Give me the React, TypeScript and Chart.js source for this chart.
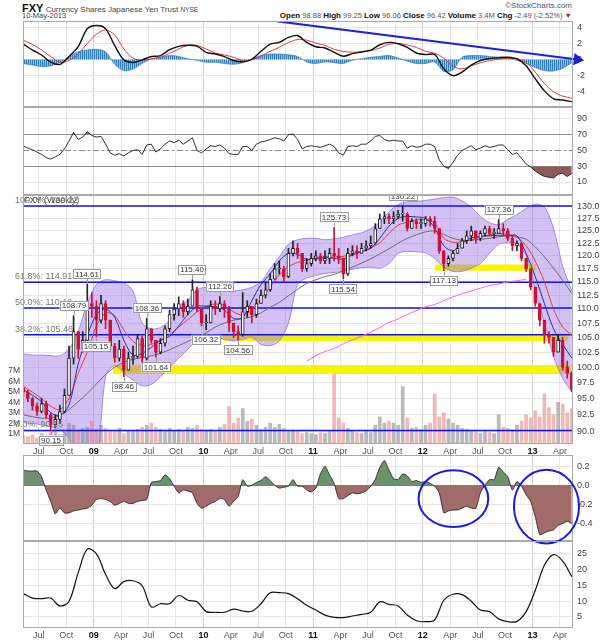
import React, { useEffect, useRef } from "react";
import { Chart, registerables } from "chart.js";

Chart.register(...registerables);

const FONT = "'Liberation Sans', Arial, Helvetica, sans-serif";

// ---------- time axis: months counted from 1 May 2008 ----------
const X_MIN = 0.266;
const X_MAX = 60.43;
const FIRST_BAR_MONTH = 0.3; // week of 9 May 2008
const BAR_STEP = 0.5; // half-month price bars
const MONTH_STEP = 1; // monthly indicator samples

const quarterMonths = [2, 5, 8, 11, 14, 17, 20, 23, 26, 29, 32, 35, 38, 41, 44, 47, 50, 53, 56, 59];
const quarterLabels = ["Jul", "Oct", "09", "Apr", "Jul", "Oct", "10", "Apr", "Jul", "Oct", "11", "Apr", "Jul", "Oct", "12", "Apr", "Jul", "Oct", "13", "Apr"];

// ---------- header ----------
const symbol = "FXY";
const fullName = "Currency Shares Japanese Yen Trust";
const exchange = "NYSE";
const asOf = "10-May-2013";
const quoteLabels = ["Open", "High", "Low", "Close", "Volume", "Chg"];
const quoteValues = ["98.88", "99.25", "96.06", "96.42", "3.4M", "-2.49 (-2.52%)"];

// ---------- price bars (half-monthly) ----------
const firstOpen = 96.6;
const closes = [
  96.0, 95.0, 93.8, 93.0, 94.2, 92.5, 91.0, 91.8, 93.0, 95.5,
  101.5, 106.0, 103.0, 104.5, 111.0, 110.5, 108.0, 111.0, 108.0, 103.5,
  101.5, 103.0, 99.5, 101.5, 101.8, 104.8, 101.5, 106.5, 104.5, 102.5,
  104.0, 106.5, 109.0, 110.0, 111.0, 109.5, 110.5, 113.5, 110.0, 107.5,
  107.5, 110.5, 110.0, 111.0, 110.0, 107.5, 106.0, 105.5, 109.5, 110.5,
  109.0, 111.0, 112.5, 113.5, 115.5, 117.5, 117.5, 116.0, 120.5, 121.5,
  120.5, 117.5, 118.5, 119.5, 120.0, 119.0, 119.5, 120.5, 120.0, 119.5,
  116.5, 120.5, 121.0, 120.5, 121.5, 122.0, 122.5, 125.5, 127.5, 128.0,
  127.5, 128.0, 128.5, 128.5, 125.5, 127.0, 126.5, 126.5, 127.5, 127.0,
  125.5, 121.0, 118.5, 119.5, 120.5, 121.5, 123.0, 124.0, 125.0, 123.5,
  124.5, 125.5, 124.5, 124.5, 125.5, 125.0, 123.5, 122.0, 122.5, 119.5,
  117.5, 114.0, 111.0, 108.0, 105.5, 105.0, 102.5, 104.5, 100.0, 99.0,
  96.42,
];
const highs = [
  97.0, 96.3, 95.2, 94.3, 95.0, 94.6, 92.8, 92.5, 94.0, 96.5,
  103.5, 108.79, 106.0, 106.0, 114.61, 113.0, 111.5, 112.5, 111.5, 108.0,
  104.0, 104.5, 103.5, 102.5, 103.5, 105.5, 105.2, 108.36, 106.5, 104.5,
  104.8, 107.0, 109.8, 111.0, 112.2, 111.5, 111.8, 115.4, 114.0, 110.0,
  109.0, 111.5, 111.5, 112.26, 111.5, 110.5, 107.5, 107.0, 113.0, 111.5,
  110.5, 111.8, 113.5, 115.0, 116.5, 118.5, 119.0, 118.0, 121.5, 123.0,
  122.5, 120.5, 119.5, 120.5, 121.0, 120.5, 121.0, 121.5, 125.73, 121.5,
  119.5, 121.5, 122.0, 122.0, 122.5, 123.0, 124.0, 126.5, 128.5, 129.0,
  128.5, 129.0, 129.3, 130.22, 128.8, 127.5, 127.5, 127.5, 128.0, 128.0,
  128.0, 125.5, 121.0, 120.0, 121.0, 122.5, 123.5, 125.0, 126.0, 125.0,
  125.0, 126.0, 126.0, 125.5, 127.36, 126.5, 125.5, 124.0, 123.0, 122.5,
  119.5, 117.5, 114.0, 111.0, 108.0, 106.0, 105.0, 105.5, 105.0, 101.0,
  99.25,
];
const lows = [
  95.2, 94.5, 93.2, 92.4, 92.8, 92.0, 90.15, 90.6, 91.2, 92.8,
  95.5, 100.5, 101.5, 102.5, 104.5, 108.5, 105.15, 107.5, 106.5, 102.8,
  100.8, 101.0, 98.46, 99.5, 100.5, 101.5, 100.5, 101.2, 104.0, 101.64,
  102.2, 103.5, 106.0, 108.0, 108.8, 108.5, 109.0, 110.5, 109.5, 107.0,
  106.32, 107.5, 109.0, 109.5, 108.5, 106.0, 105.0, 104.56, 105.2, 108.5,
  107.5, 108.5, 111.0, 112.0, 113.2, 115.5, 116.5, 115.0, 115.8, 120.0,
  119.5, 117.0, 117.0, 118.0, 119.0, 118.5, 118.5, 118.5, 119.0, 118.5,
  115.54, 116.2, 120.0, 119.5, 120.5, 121.0, 121.5, 122.3, 125.5, 126.5,
  126.5, 126.5, 127.5, 127.0, 125.0, 125.5, 125.5, 125.5, 126.0, 126.0,
  124.5, 120.5, 117.13, 118.0, 119.0, 120.5, 121.5, 122.5, 123.0, 122.5,
  123.0, 124.0, 124.0, 123.5, 124.5, 124.0, 123.0, 121.0, 121.0, 119.0,
  117.0, 113.5, 110.5, 107.0, 104.0, 104.0, 101.8, 102.5, 99.5, 98.2,
  96.06,
];
const volumesM = [
  0.8, 0.7, 0.9, 0.6, 1.0, 0.8, 1.2, 1.5, 0.9, 1.1,
  2.0, 1.8, 1.2, 1.5, 1.6, 2.2, 1.4, 1.8, 1.5, 1.3,
  1.2, 1.5, 1.0, 1.3, 1.2, 1.4, 1.6, 1.8, 2.0, 1.6,
  1.4, 1.2, 1.5, 1.3, 1.4, 1.2, 1.6, 1.5, 1.8, 1.4,
  1.3, 1.4, 1.2, 1.6, 1.9, 3.6, 2.0, 2.5, 3.4, 2.2,
  2.4, 1.8, 1.4, 1.6, 2.0, 1.6, 1.9, 1.5, 1.2, 1.3,
  1.2, 1.0, 1.1, 1.0, 0.9, 1.1, 1.0, 1.2, 6.7, 2.5,
  2.0, 1.5, 1.3, 1.1, 1.0, 1.2, 1.1, 1.8, 2.6, 2.0,
  2.2, 2.0, 1.8, 5.5, 2.5, 1.5, 1.6, 1.4, 1.8, 2.0,
  4.8, 2.6, 3.0, 2.4, 2.0, 1.8, 1.5, 1.4, 1.3, 1.2,
  1.0, 1.2, 1.1, 1.0, 2.8, 1.6, 1.5, 1.4, 1.8, 2.2,
  2.8, 2.5, 3.2, 2.6, 4.8, 3.5, 2.8, 4.0, 3.8, 3.0,
  3.4,
];
const rsi = [
  55.7, 53, 51, 48, 45, 41, 39, 42, 45, 52,
  62, 73, 64, 67, 74, 69, 67, 68, 58, 47,
  44, 46, 43, 47, 50, 51, 45, 57, 58, 48,
  52, 58, 62, 60, 63, 58, 62, 66, 50, 47,
  52, 56, 55, 57, 53, 46, 45, 45, 55, 55,
  50, 58, 61, 62, 64, 66, 65, 62, 70, 71,
  64, 52, 55, 56, 55, 54, 56, 58, 55, 47,
  44, 55, 56, 55, 58, 58, 62, 68, 69, 64,
  62, 63, 62, 62, 53, 56, 54, 55, 58, 58,
  55, 38, 30, 27, 35, 44, 50, 53, 56, 51,
  53, 56, 54, 55, 57, 57, 51, 45, 47, 40,
  33, 29, 24, 20, 17, 16, 15, 20, 21, 17,
  21,
];
const cmf = [
  0.16, 0.15, 0.15, 0.15, 0.09, -0.05, -0.17, -0.30, -0.24, -0.29,
  -0.29, -0.27, -0.26, -0.25, -0.24, -0.21, -0.15, -0.14, -0.15, -0.17,
  -0.21, -0.19, -0.17, -0.19, -0.19, -0.17, -0.16, -0.15, 0.03, 0.04,
  0.05, 0.11, 0.07, -0.01, -0.08, -0.05, -0.06, -0.08, -0.19, -0.24,
  -0.22, -0.19, -0.17, -0.14, -0.15, -0.22, -0.17, -0.12, 0.06, -0.01,
  0.0, 0.03, 0.05, 0.09, 0.05, 0.0, -0.03, -0.02, -0.01, 0.06,
  -0.01, -0.01, -0.05, -0.07, -0.03, 0.12, 0.20, 0.11, 0.02, -0.14,
  -0.14, -0.11, -0.08, -0.09, -0.08, -0.06, -0.01, 0.06, 0.19, 0.26,
  0.16, 0.07, 0.06, 0.12, 0.10, 0.04, 0.05, 0.03, 0.04, 0.02,
  -0.01, -0.08, -0.29, -0.27, -0.26, -0.26, -0.24, -0.22, -0.24, -0.24,
  -0.08, 0.0, 0.06, 0.06, 0.19, 0.14, 0.09, -0.05, 0.04, -0.01,
  -0.10, -0.17, -0.33, -0.52, -0.50, -0.48, -0.47, -0.42, -0.40, -0.38,
  -0.40,
];

// ---------- monthly overlays / indicators ----------
const bbUpper = [
  102.2, 102.0, 102.0, 101.9, 101.9, 103.0, 106.0, 111.0, 114.5, 115.4,
  115.2, 114.8, 113.3, 107.5, 106.5, 106.7, 108.0, 110.5, 111.6, 113.5,
  114.0, 113.8, 113.5, 113.3, 113.5, 114.0, 115.0, 117.5, 119.8, 122.3,
  123.2, 123.5, 123.5, 123.2, 123.4, 123.7, 124.2, 124.6, 125.5, 126.8,
  129.0, 130.5, 131.1, 131.2, 131.4, 131.7, 132.0, 132.1, 131.3, 130.0,
  128.0, 126.7, 126.3, 127.4, 128.4, 129.7, 130.6, 130.0, 125.5, 118.0,
  113.3,
];
const bbLower = [
  91.3, 91.2, 91.0, 90.7, 90.3, 89.0, 86.0, 84.0, 85.0, 98.5,
  100.3, 99.0, 97.9, 97.0, 97.2, 98.5, 100.0, 101.5, 103.0, 104.5,
  105.2, 105.0, 104.7, 104.4, 104.7, 105.0, 103.8, 103.6, 104.4, 107.5,
  114.6, 115.7, 116.2, 116.6, 116.8, 117.0, 117.4, 117.7, 117.8, 117.6,
  118.5, 120.5, 120.9, 120.8, 120.6, 119.5, 117.8, 117.0, 117.0, 117.6,
  118.5, 120.5, 122.3, 122.6, 122.4, 120.0, 113.5, 107.5, 101.8, 98.2,
  96.0,
];
const maFast = [
  96.4, 95.5, 94.5, 92.8, 92.4, 94.0, 100.5, 105.3, 109.0, 110.0,
  108.5, 104.5, 102.0, 102.3, 103.3, 104.5, 105.2, 107.0, 109.0, 110.5,
  110.5, 110.4, 109.8, 108.3, 108.5, 111.5, 114.5, 116.5, 119.0, 120.5,
  120.3, 119.3, 119.5, 119.8, 119.5, 119.4, 120.2, 120.8, 121.5, 123.5,
  126.0, 127.6, 128.0, 127.9, 127.6, 125.6, 122.0, 121.0, 122.5, 123.6,
  123.9, 124.0, 124.1, 124.1, 124.0, 120.5, 116.0, 111.0, 106.5, 103.8,
  101.5,
];
const maMid = [
  96.9, 96.0, 95.0, 93.8, 93.3, 95.0, 99.0, 102.5, 107.0, 109.3,
  108.8, 106.3, 104.3, 103.6, 103.8, 104.5, 105.5, 106.8, 108.1, 109.5,
  110.5, 110.9, 110.6, 109.5, 108.9, 109.8, 111.8, 114.0, 116.3, 117.9,
  118.7, 119.2, 119.4, 119.6, 119.8, 119.9, 120.4, 120.9, 121.6, 122.6,
  124.5, 126.2, 126.8, 127.3, 127.3, 126.6, 123.5, 122.7, 122.8, 123.2,
  123.8, 124.2, 124.5, 124.3, 123.7, 122.0, 119.0, 115.0, 110.0, 106.8,
  105.4,
];
const maSlow = [
  92.5, 92.2, 92.0, 92.0, 92.4, 93.3, 94.5, 95.8, 97.3, 98.8,
  100.0, 100.8, 101.3, 101.6, 101.9, 102.3, 102.9, 103.6, 104.3, 105.0,
  105.8, 106.8, 107.5, 108.0, 108.3, 108.6, 109.3, 110.3, 111.2, 112.4,
  113.6, 114.7, 115.4, 116.0, 116.4, 117.1, 117.8, 118.6, 119.4, 120.4,
  121.4, 122.5, 123.5, 124.2, 124.8, 125.0, 124.3, 123.5, 123.1, 123.1,
  123.3, 123.5, 123.8, 124.0, 123.8, 123.3, 121.8, 119.8, 117.6, 115.3,
  112.8,
];
const maLong = [
  null, null, null, null, null, null, null, null, null, null,
  null, null, null, null, null, null, null, null, null, null,
  null, null, null, null, null, null, null, null, null, null,
  null, 101.0, 101.9, 102.6, 103.1, 103.9, 104.6, 105.2, 105.9, 106.7,
  107.6, 108.2, 109.0, 109.7, 110.4, 110.8, 111.5, 112.2, 112.8, 113.3,
  113.8, 114.3, 114.6, 115.0, 115.2, 115.5, null, null, null, null,
  null,
];
const macd = [
  1.96, 1.2, 0.58, -0.33, -0.62, 0.38, 1.62, 3.9, 4.3, 3.9,
  1.75, -0.04, -0.37, -0.04, 0.38, 0.5, 1.25, 1.67, 1.8, 1.7,
  0.92, 0.7, 0.38, -0.12, -0.3, 0.04, 1.04, 1.96, 2.17, 2.8,
  3.04, 2.17, 1.62, 1.46, 0.92, 0.42, 0.75, 0.96, 1.2, 1.87,
  2.17, 2.0, 1.54, 0.83, 0.63, 0.63, -1.17, -2.04, -1.58, -0.71,
  -0.12, 0.12, 0.25, 0.29, 0.08, -0.79, -2.42, -3.96, -4.96, -5.12,
  -5.33,
];
const macdSignal = [
  2.46, 1.92, 1.21, 0.38, -0.37, -0.13, 0.71, 2.04, 3.2, 3.75,
  3.1, 1.33, 0.17, -0.08, 0.08, 0.29, 0.79, 1.33, 1.79, 1.79,
  1.33, 0.83, 0.58, 0.29, -0.13, -0.04, 0.46, 1.04, 1.54, 2.13,
  2.54, 2.46, 2.08, 1.79, 1.29, 1.04, 0.92, 1.0, 1.12, 1.46,
  1.92, 2.04, 1.83, 1.54, 1.04, 0.79, 0.17, -0.88, -1.17, -0.79,
  -0.42, -0.13, 0.04, 0.17, 0.12, -0.37, -1.58, -3.04, -4.08, -4.62,
  -4.88,
];
const macdHist = [
  -0.5, -0.7, -0.9, -0.8, -0.4, 0.4, 1.0, 1.2, 1.3, 1.0,
  -0.6, -1.4, -1.2, -0.5, 0.1, 0.3, 0.5, 0.4, 0.1, -0.1,
  -0.35, -0.35, -0.5, -0.6, -0.4, 0.1, 0.5, 0.7, 0.7, 0.6,
  0.4, -0.3, -0.5, -0.3, -0.4, -0.5, -0.1, 0.1, 0.3, 0.4,
  0.5, 0.2, -0.2, -0.5, -0.5, -0.3, -1.5, -1.3, 0.3, 0.5,
  0.5, 0.4, 0.3, 0.2, -0.1, -0.5, -1.0, -1.4, -1.45, -1.1,
  -0.4,
];
const adx = [
  12.4, 11.0, 10.8, 11.0, 8.5, 10.0, 19.0, 26.5, 25.0, 18.5,
  14.0, 16.2, 16.5, 14.9, 8.2, 9.2, 9.2, 11.8, 10.3, 9.8,
  6.7, 6.5, 6.5, 7.5, 6.9, 6.8, 9.2, 12.7, 12.7, 12.4,
  10.8, 8.7, 7.2, 5.6, 4.9, 4.8, 5.3, 5.8, 6.5, 9.8,
  9.0, 8.5, 5.6, 3.8, 3.5, 4.1, 10.3, 12.2, 12.1, 10.0,
  7.2, 6.7, 4.4, 3.5, 3.6, 6.7, 13.4, 21.4, 24.8, 22.7,
  17.8,
];

// ---------- annotations ----------
const fibPercents = ["100.0%", "61.8%", "50.0%", "38.2%", "0.0%"];
const fibLevels = [130.22, 114.91, 110.18, 105.46, 90.15];
const supportLow = [98.9, 104.4, 117.13];
const supportHigh = [100.35, 105.46, 118.3];
const supportFrom = [10.1, 22.06, 45.3];
const supportTo = [60.2, 59.9, 56.4];
const noteBars = [6, 11, 14, 16, 22, 27, 29, 37, 40, 43, 47, 68, 70, 83, 92, 104];
const noteAbove = [false, true, true, false, false, true, false, true, false, true, false, true, false, true, false, true];
const macdTrendMonths = [27.98, 60.9];
const macdTrendValues = [4.85, 0.0];
const ringMonths = [47.35, 57.53];
const ringValues = [-0.141, -0.223];
const ringHalfMonths = [3.81, 3.56];
const ringHalfValues = [0.298, 0.387];

const priceTicks = [90, 92.5, 95, 97.5, 100, 102.5, 105, 107.5, 110, 112.5, 115, 117.5, 120, 122.5, 125, 127.5, 130];
const volumeTicks = [1, 2, 3, 4, 5, 6, 7];
const macdTicks = [4, 2, 0, -2, -4];
const rsiTicks = [90, 70, 50, 30, 10];
const cmfTicks = [0.2, 0, -0.2, -0.4];
const adxTicks = [25, 20, 15, 10, 5];

// ---------- helpers ----------
const barX = (i: number) => FIRST_BAR_MONTH + BAR_STEP * i;
const monthX = (k: number) => FIRST_BAR_MONTH + MONTH_STEP * k;
const pts = (vals: any[], xf: (i: number) => number) => vals.map((v, i) => ({ x: xf(i), y: v }));
const isYearLabel = (v: number) => /^\d\d$/.test(quarterLabels[quarterMonths.indexOf(v)] || "");

function timeAxis(showLabels: boolean) {
  return {
    type: "linear",
    min: X_MIN,
    max: X_MAX,
    offset: false,
    afterBuildTicks: (s: any) => {
      s.ticks = quarterMonths.map((v) => ({ value: v }));
    },
    afterFit: (s: any) => {
      s.height = showLabels ? 12 : 0;
      s.paddingLeft = 0;
      s.paddingRight = 0;
    },
    ticks: {
      display: showLabels,
      autoSkip: false,
      maxRotation: 0,
      minRotation: 0,
      padding: 2,
      callback: (v: any) => quarterLabels[quarterMonths.indexOf(Number(v))] ?? "",
      font: (c: any) => ({ family: FONT, size: 9, weight: c.tick && isYearLabel(c.tick.value) ? "bold" : "normal" }),
      color: (c: any) => (c.tick && isYearLabel(c.tick.value) ? "#111" : "#555"),
    },
    grid: {
      drawTicks: false,
      offset: false,
      color: (c: any) => (c.tick && isYearLabel(c.tick.value) ? "#d2d2d2" : "#e6e6e6"),
    },
    border: { display: false },
  };
}

function rightAxis(min: number, max: number, ticks: number[], fmt: (v: number) => string, gridColor?: any) {
  return {
    position: "right",
    min,
    max,
    afterBuildTicks: (s: any) => {
      s.ticks = ticks.map((v) => ({ value: v }));
    },
    afterFit: (s: any) => {
      s.width = 33;
      s.paddingTop = 0;
      s.paddingBottom = 0;
    },
    ticks: { autoSkip: false, padding: 4, font: { family: FONT, size: 9 }, color: "#444", callback: (v: any) => fmt(Number(v)) },
    grid: { drawTicks: false, color: gridColor || "#e6e6e6" },
    border: { display: false },
  };
}

const framePlugin = {
  id: "frame",
  afterDraw(chart: any) {
    const { ctx, chartArea: a } = chart;
    ctx.save();
    ctx.strokeStyle = "#a9a9a9";
    ctx.lineWidth = 1;
    ctx.strokeRect(a.left + 0.5, a.top + 0.5, a.right - a.left - 1, a.bottom - a.top - 1);
    ctx.restore();
  },
};

function baseOptions(scales: any, padLeft: number, padBottom = 0) {
  return {
    responsive: false,
    maintainAspectRatio: false,
    animation: false,
    events: [],
    layout: { padding: { left: padLeft, right: 0, top: 0, bottom: padBottom }, autoPadding: false },
    plugins: { legend: { display: false }, tooltip: { enabled: false }, title: { display: false }, colors: { enabled: false } },
    scales,
  };
}

const flatLine = (y: number, from: number, to: number) => [{ x: from, y }, { x: to, y }];
const lineDs = (data: any[], color: string, width: number, extra: any = {}) => ({
  type: "line",
  data,
  borderColor: color,
  borderWidth: width,
  pointRadius: 0,
  tension: 0.3,
  fill: false,
  ...extra,
});

function stripePattern(dark: string, light: string) {
  const c = document.createElement("canvas");
  c.width = 2;
  c.height = 1;
  const g = c.getContext("2d") as CanvasRenderingContext2D;
  g.fillStyle = dark;
  g.fillRect(0, 0, 1, 1);
  g.fillStyle = light;
  g.fillRect(1, 0, 1, 1);
  return g.createPattern(c, "repeat");
}

// ---------- MACD ----------
function macdConfig() {
  return {
    type: "line",
    data: {
      datasets: [
        lineDs(pts(macdHist, monthX), "#2d6f9f", 0.6, {
          fill: "origin",
          backgroundColor: stripePattern("#2f7fba", "#8fc0e3"),
          order: 10,
        }),
        lineDs(pts(macdSignal, monthX), "#e8373a", 1, { order: 3 }),
        lineDs(pts(macd, monthX), "#111111", 1.4, { order: 2 }),
        lineDs(
          macdTrendMonths.map((m, i) => ({ x: m, y: macdTrendValues[i] })),
          "#1f1fe0",
          2,
          {
            tension: 0,
            order: 1,
            clip: false,
            pointRadius: [0, 5],
            pointStyle: "triangle",
            rotation: 97,
            pointBackgroundColor: "#1f1fe0",
            pointBorderColor: "#1f1fe0",
          }
        ),
      ],
    },
    options: baseOptions({ x: timeAxis(false), y: rightAxis(-6.0, 4.875, macdTicks, (v) => String(v)) }, 23),
    plugins: [framePlugin],
  };
}

// ---------- RSI ----------
function rsiConfig() {
  const rsiPts = pts(rsi, barX);
  return {
    type: "line",
    data: {
      datasets: [
        lineDs(rsiPts, "rgba(0,0,0,0)", 0, { tension: 0, order: 10, fill: { target: { value: 70 }, above: "#5d875d", below: "rgba(0,0,0,0)" } }),
        lineDs(rsiPts, "rgba(0,0,0,0)", 0, { tension: 0, order: 10, fill: { target: { value: 30 }, above: "rgba(0,0,0,0)", below: "#8e5a58" } }),
        lineDs(flatLine(50, X_MIN, X_MAX), "#8a8a8a", 1, { tension: 0, borderDash: [6, 3, 2, 3], order: 5 }),
        lineDs(rsiPts, "#1a1a1a", 0.9, { tension: 0, order: 1 }),
      ],
    },
    options: baseOptions(
      {
        x: timeAxis(false),
        y: rightAxis(-6.5, 105.2, rsiTicks, (v) => String(v), (c: any) =>
          c.tick && (c.tick.value === 70 || c.tick.value === 30) ? "#9a9a9a" : "#e6e6e6"
        ),
      },
      23
    ),
    plugins: [framePlugin],
  };
}

// ---------- Price ----------
const priceNotes = {
  id: "priceNotes",
  afterDatasetsDraw(chart: any) {
    const { ctx, scales, chartArea } = chart;
    const x = scales.x;
    const y = scales.y;
    ctx.save();
    ctx.font = `9px ${FONT}`;
    ctx.textBaseline = "bottom";
    ctx.textAlign = "left";
    ctx.fillStyle = "#777";
    fibLevels.forEach((lv, j) => {
      ctx.fillText(`${fibPercents[j]}: ${lv.toFixed(2)}`, 15, y.getPixelForValue(lv) - 1);
    });
    ctx.fillStyle = "#555";
    ctx.textBaseline = "middle";
    ctx.fillText(`${symbol} (Weekly)`, chartArea.left + 1, chartArea.top + 6);

    ctx.font = `8px ${FONT}`;
    ctx.textAlign = "center";
    noteBars.forEach((bi, j) => {
      const above = noteAbove[j];
      const v = above ? highs[bi] : lows[bi];
      const px = Math.round(x.getPixelForValue(barX(bi)));
      const py = y.getPixelForValue(v);
      const txt = v.toFixed(2);
      const w = Math.ceil(ctx.measureText(txt).width) + 4;
      const h = 10;
      const cy = above ? py - 10 : py + 10;
      ctx.strokeStyle = "#9a9a9a";
      ctx.lineWidth = 1;
      ctx.beginPath();
      ctx.moveTo(px + 0.5, py + (above ? -1 : 1));
      ctx.lineTo(px + 0.5, cy + (above ? h / 2 : -h / 2));
      ctx.stroke();
      ctx.fillStyle = "#ffffff";
      ctx.fillRect(px - w / 2, cy - h / 2, w, h);
      ctx.strokeRect(Math.round(px - w / 2) + 0.5, Math.round(cy - h / 2) + 0.5, w - 1, h - 1);
      ctx.fillStyle = "#333";
      ctx.fillText(txt, px, cy + 0.5);
    });
    ctx.restore();
  },
};

function priceConfig() {
  const opens = closes.map((c, i) => (i === 0 ? firstOpen : closes[i - 1]));
  const isUp = closes.map((c, i) => c >= opens[i]);
  const candleColor = isUp.map((u) => (u ? "#222222" : "#cc1236"));
  const datasets: any[] = [];
  supportLow.forEach((lo, j) => {
    datasets.push(lineDs(flatLine(supportHigh[j], supportFrom[j], supportTo[j]), "rgba(0,0,0,0)", 0, { tension: 0, order: 40 }));
    datasets.push(
      lineDs(flatLine(lo, supportFrom[j], supportTo[j]), "rgba(0,0,0,0)", 0, { tension: 0, order: 40, fill: "-1", backgroundColor: "#f6f600" })
    );
  });
  datasets.push(lineDs(pts(bbUpper, monthX), "#a488dd", 1, { order: 35 }));
  datasets.push(lineDs(pts(bbLower, monthX), "#a488dd", 1, { order: 35, fill: "-1", backgroundColor: "rgba(150,105,230,0.42)" }));
  datasets.push({
    type: "bar",
    yAxisID: "yv",
    data: pts(volumesM, barX),
    grouped: false,
    barThickness: 3,
    backgroundColor: isUp.map((u) => (u ? "rgba(140,140,140,0.6)" : "rgba(232,125,125,0.55)")),
    borderWidth: 0,
    order: 30,
  });
  fibLevels.forEach((lv) => {
    datasets.push(lineDs(flatLine(lv, X_MIN, X_MAX), "#1212ee", 1.5, { tension: 0, order: 25 }));
  });
  datasets.push(lineDs(pts(maLong, monthX), "#ff5cf0", 1, { order: 20 }));
  datasets.push(lineDs(pts(maSlow, monthX), "#6d6d6d", 1, { order: 19 }));
  datasets.push(lineDs(pts(maMid, monthX), "#e23a3a", 1, { order: 18 }));
  datasets.push(lineDs(pts(maFast, monthX), "#2b2ba8", 1, { order: 17 }));
  datasets.push({
    type: "bar",
    data: closes.map((c, i) => ({ x: barX(i), y: [lows[i], highs[i]] })),
    grouped: false,
    barThickness: 1,
    backgroundColor: candleColor,
    borderWidth: 0,
    order: 6,
  });
  datasets.push({
    type: "bar",
    data: closes.map((c, i) => ({ x: barX(i), y: [opens[i], c] })),
    grouped: false,
    barThickness: 3,
    minBarLength: 1,
    backgroundColor: isUp.map((u) => (u ? "#ffffff" : "#cc1236")),
    borderColor: candleColor,
    borderWidth: 1,
    borderSkipped: false,
    order: 5,
  });
  return {
    type: "line",
    data: { datasets },
    options: baseOptions(
      {
        x: timeAxis(true),
        y: { type: "logarithmic", ...rightAxis(88.18, 132.58, priceTicks, (v) => v.toFixed(1)) },
        yv: {
          type: "linear",
          position: "left",
          min: 0,
          max: 23.9,
          afterBuildTicks: (s: any) => {
            s.ticks = volumeTicks.map((v) => ({ value: v }));
          },
          afterFit: (s: any) => {
            s.width = 23;
            s.paddingTop = 0;
            s.paddingBottom = 0;
          },
          ticks: { autoSkip: false, padding: 3, font: { family: FONT, size: 8.5 }, color: "#444", callback: (v: any) => `${v}M` },
          grid: { display: false, drawTicks: false },
          border: { display: false },
        },
      },
      0
    ),
    plugins: [framePlugin, priceNotes],
  };
}

// ---------- CMF ----------
const cmfRings = {
  id: "cmfRings",
  afterDraw(chart: any) {
    const { ctx, scales } = chart;
    const x = scales.x;
    const y = scales.y;
    ctx.save();
    ctx.strokeStyle = "#1a1ae6";
    ctx.lineWidth = 2;
    ringMonths.forEach((m, j) => {
      const cx = x.getPixelForValue(m);
      const cy = y.getPixelForValue(ringValues[j]);
      const rx = Math.abs(x.getPixelForValue(m + ringHalfMonths[j]) - cx);
      const ry = Math.abs(y.getPixelForValue(ringValues[j] - ringHalfValues[j]) - cy);
      ctx.beginPath();
      ctx.ellipse(cx, cy, rx, ry, 0, 0, Math.PI * 2);
      ctx.stroke();
    });
    ctx.restore();
  },
};

function cmfConfig() {
  return {
    type: "line",
    data: {
      datasets: [
        lineDs(pts(cmf, barX), "#1a1a1a", 0.8, {
          tension: 0.2,
          fill: { target: "origin", above: "#6c926c", below: "#a06b69" },
        }),
      ],
    },
    options: baseOptions(
      {
        x: timeAxis(false),
        y: rightAxis(-0.585, 0.318, cmfTicks, (v) => (Math.abs(v) < 1e-9 ? "0.0" : v.toFixed(1)), (c: any) =>
          c.tick && Math.abs(c.tick.value) < 1e-9 ? "#7a7a7a" : "#e6e6e6"
        ),
      },
      23,
      7
    ),
    plugins: [framePlugin, cmfRings],
  };
}

// ---------- ADX-style trend strength ----------
function adxConfig() {
  return {
    type: "line",
    data: { datasets: [lineDs(pts(adx, monthX), "#111111", 1.2, { tension: 0.35 })] },
    options: baseOptions({ x: timeAxis(true), y: rightAxis(1.5, 29.1, adxTicks, (v) => String(v)) }, 23),
    plugins: [framePlugin],
  };
}

function Panel({ top, height, build }: { top: number; height: number; build: () => any }) {
  const ref = useRef<HTMLCanvasElement | null>(null);
  useEffect(() => {
    const chart = new Chart(ref.current as HTMLCanvasElement, build());
    return () => chart.destroy();
  }, []);
  return (
    <canvas
      ref={ref}
      width={606}
      height={height}
      style={{ position: "absolute", left: 0, top, width: 606, height, display: "block" }}
    />
  );
}

export default function App() {
  return (
    <div
      style={{
        position: "absolute",
        left: 0,
        top: 0,
        width: 606,
        height: 640,
        background: "#ffffff",
        fontFamily: FONT,
        overflow: "hidden",
      }}
    >
      <div style={{ position: "absolute", left: 22, top: 0, whiteSpace: "nowrap", lineHeight: "13px" }}>
        <span style={{ fontSize: 11, fontWeight: "bold", color: "#111" }}>{symbol}</span>
        <span style={{ fontSize: 8, color: "#444" }}> {fullName} </span>
        <span style={{ fontSize: 6.5, color: "#444" }}>{exchange}</span>
      </div>
      <div style={{ position: "absolute", left: 22, top: 11, fontSize: 7.5, color: "#444", lineHeight: "10px" }}>{asOf}</div>
      <div style={{ position: "absolute", right: 34, top: 1, fontSize: 8, color: "#555", lineHeight: "10px" }}>©StockCharts.com</div>
      <div style={{ position: "absolute", right: 34, top: 11, fontSize: 7.5, color: "#555", whiteSpace: "nowrap", lineHeight: "10px" }}>
        {quoteLabels.map((l, i) => (
          <span key={l}>
            <b style={{ color: "#111", fontSize: 8 }}>{l}</b> {quoteValues[i]}{" "}
          </span>
        ))}
        <span style={{ color: "#cc1236" }}>▼</span>
      </div>
      <Panel top={21} height={86} build={macdConfig} />
      <Panel top={107} height={88} build={rsiConfig} />
      <Panel top={195} height={261} build={priceConfig} />
      <Panel top={455} height={93} build={cmfConfig} />
      <Panel top={541} height={99} build={adxConfig} />
    </div>
  );
}
